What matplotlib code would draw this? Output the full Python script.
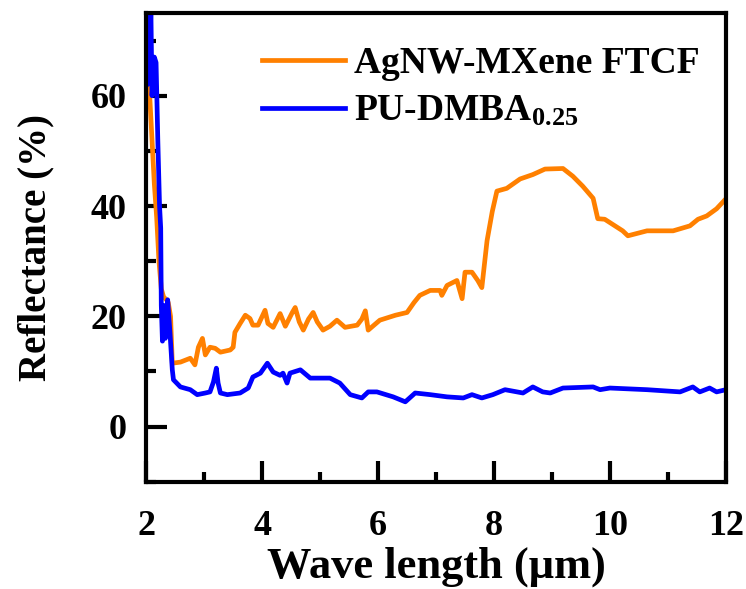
import matplotlib
matplotlib.use("Agg")
import matplotlib.pyplot as plt
from matplotlib.ticker import MultipleLocator

plt.rcParams['font.family'] = ['Liberation Serif', 'DejaVu Serif']
plt.rcParams['font.weight'] = 'bold'
plt.rcParams['mathtext.default'] = 'regular'

# AgNW-MXene FTCF reflectance spectrum
ftcf_wl = [2.00, 2.03, 2.06, 2.10, 2.14, 2.18, 2.22, 2.26, 2.30, 2.35, 2.38, 2.42, 2.45,
           2.59, 2.76, 2.84, 2.90, 2.97, 3.02, 3.10, 3.19, 3.28, 3.45, 3.50, 3.53, 3.62,
           3.71, 3.79, 3.84, 3.93, 4.05, 4.10, 4.19, 4.31, 4.40, 4.52, 4.57, 4.64, 4.71,
           4.80, 4.88, 4.95, 5.05, 5.17, 5.29, 5.43, 5.64, 5.72, 5.78, 5.83, 6.03, 6.30,
           6.50, 6.62, 6.72, 6.90, 7.07, 7.10, 7.19, 7.36, 7.45, 7.50, 7.62, 7.72, 7.79,
           7.88, 7.97, 8.05, 8.22, 8.45, 8.67, 8.88, 9.19, 9.36, 9.53, 9.71, 9.79, 9.91,
           10.22, 10.31, 10.64, 11.09, 11.38, 11.52, 11.67, 11.84, 12.00]
ftcf_r = [67.0, 65.0, 60.0, 52.0, 44.0, 38.0, 30.0, 25.0, 23.5, 23.0, 22.5, 20.0, 11.5,
          11.7, 12.4, 11.2, 14.4, 16.0, 13.0, 14.4, 14.2, 13.5, 13.9, 14.4, 17.1, 18.7,
          20.2, 19.6, 18.4, 18.4, 21.1, 18.7, 18.0, 20.5, 18.2, 20.7, 21.6, 19.0, 17.5,
          19.5, 20.7, 19.0, 17.5, 18.2, 19.3, 18.0, 18.4, 19.5, 21.0, 17.5, 19.3, 20.2,
          20.7, 22.5, 23.8, 24.7, 24.7, 23.8, 25.6, 26.5, 23.2, 28.0, 28.0, 26.5, 25.2,
          33.7, 39.0, 42.7, 43.2, 44.9, 45.7, 46.7, 46.8, 45.4, 43.6, 41.4, 37.7, 37.6,
          35.5, 34.6, 35.5, 35.5, 36.4, 37.6, 38.2, 39.5, 41.3]

# PU-DMBA0.25 reflectance spectrum
pu_wl = [2.00, 2.02, 2.04, 2.06, 2.08, 2.10, 2.12, 2.14, 2.17, 2.20, 2.23, 2.25, 2.26,
         2.28, 2.30, 2.33, 2.37, 2.41, 2.45, 2.47, 2.59, 2.76, 2.88, 3.02, 3.10, 3.16,
         3.21, 3.24, 3.28, 3.40, 3.62, 3.76, 3.84, 3.97, 4.09, 4.19, 4.31, 4.36, 4.43,
         4.48, 4.66, 4.83, 5.17, 5.34, 5.52, 5.72, 5.83, 5.98, 6.26, 6.47, 6.64, 6.90,
         7.19, 7.47, 7.62, 7.79, 7.98, 8.19, 8.50, 8.67, 8.84, 8.97, 9.19, 9.71, 9.83,
         10.00, 10.64, 11.21, 11.43, 11.55, 11.72, 11.84, 12.00]
pu_r = [76.0, 62.0, 77.0, 63.0, 76.0, 60.0, 63.0, 67.0, 66.0, 52.0, 40.0, 36.0, 22.0,
        15.5, 22.0, 16.0, 23.0, 17.0, 10.3, 8.5, 7.2, 6.7, 5.8, 6.1, 6.3, 8.1,
        10.6, 7.9, 6.1, 5.8, 6.1, 7.0, 9.0, 9.7, 11.5, 9.9, 9.3, 9.7, 7.9,
        9.7, 10.3, 8.8, 8.8, 7.9, 5.8, 5.2, 6.3, 6.3, 5.4, 4.5, 6.1, 5.8,
        5.4, 5.2, 5.8, 5.2, 5.8, 6.7, 6.1, 7.2, 6.3, 6.1, 7.0, 7.2, 6.7,
        7.0, 6.7, 6.3, 7.2, 6.3, 7.0, 6.3, 6.7]

fig = plt.figure(figsize=(7.46, 5.89), dpi=100)
ax = fig.add_axes([0.196, 0.182, 0.777, 0.796])

ax.plot(ftcf_wl, ftcf_r, color='#ff8000', lw=3.4, label='AgNW-MXene FTCF')
ax.plot(pu_wl, pu_r, color='#0000ff', lw=3.4, label='PU-DMBA$_{0.25}$')

ax.set_xlim(2, 12)
ax.set_ylim(-10, 75)
ax.xaxis.set_major_locator(MultipleLocator(2))
ax.xaxis.set_minor_locator(MultipleLocator(1))
ax.yaxis.set_major_locator(MultipleLocator(20))
ax.yaxis.set_minor_locator(MultipleLocator(10))
ax.tick_params(which='both', direction='in', width=3, labelsize=26)
ax.tick_params(which='major', length=15)
ax.tick_params(which='minor', length=7)
ax.tick_params(axis='x', pad=20)
ax.tick_params(axis='y', pad=14)
for sp in ax.spines.values():
    sp.set_linewidth(3)

ax.set_xlabel('Wave length (μm)', fontsize=32, fontweight='bold', labelpad=3)
ax.set_ylabel('Reflectance (%)', fontsize=28, fontweight='bold', labelpad=26)

ax.legend(loc='upper left', bbox_to_anchor=(0.2, 0.93), frameon=False,
          borderpad=0, borderaxespad=0,
          fontsize=27, handlelength=2.2, handletextpad=0.25, labelspacing=0.35)

fig.savefig('out.png', dpi=100)
